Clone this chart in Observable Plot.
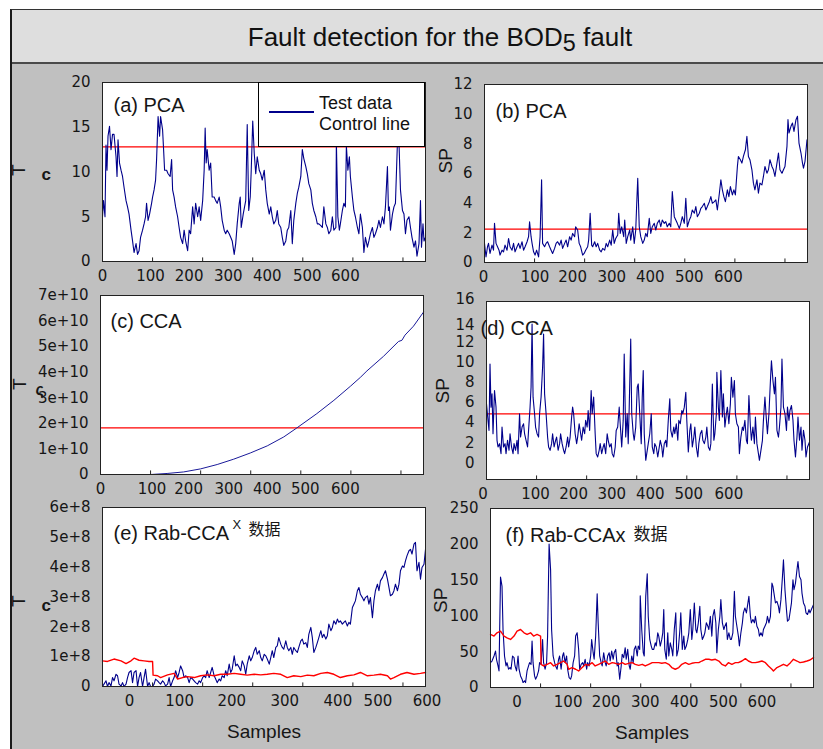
<!DOCTYPE html>
<html><head><meta charset="utf-8">
<script src="https://cdn.jsdelivr.net/npm/d3@7"></script>
<script src="https://cdn.jsdelivr.net/npm/@observablehq/plot@0.6"></script>
<style>
body{margin:0;background:#fff;}
#root{position:relative;width:823px;height:749px;overflow:hidden;background:#fff;font-family:"Liberation Sans",Arial,sans-serif;}
#frame{position:absolute;left:10px;top:9px;width:830px;height:760px;box-sizing:border-box;border-left:2px solid #1a1a1a;border-top:1.5px solid #333;background:#c0c0c0;}
#bar{position:absolute;left:0;top:0;width:100%;height:52px;background:#dedede;border-bottom:2px solid #4a4a4a;}
#title{position:absolute;left:0;top:22px;width:880px;text-align:center;font-size:26px;line-height:30px;color:#111;}
#title sub{font-size:0.9em;vertical-align:-0.22em;line-height:0;}
.legend{position:absolute;box-sizing:border-box;background:#fff;border:1px solid #000;font-size:18px;color:#111;}
.legend .ln{position:absolute;height:2px;background:#00008b;}
.legend .tx{position:absolute;line-height:20px;white-space:nowrap;}
</style></head>
<body><div id="root"><div id="frame"><div id="bar"></div></div>
<div id="title">Fault detection for the BOD<sub>5</sub> fault</div></div>
<script>
// ---------- axis ticks / labels ----------
const xTickValues = [0,100,200,300,400,500,600];
const xTickLabels = ["0","100","200","300","400","500","600"];
const xLabelPosA = [0,96,173,251,329,409,485];
const xLabelPosB = [-2,101,176,254,331,409,487];
const xLabelPosC = [0,103,176,256,333,409,489];
const xLabelPosD = [-7,98,174,250,327,404,484];
const xLabelPosE = [54,154,258,364,470,550,648];
const xLabelPosF = [53,155,231,309,387,465,542];

const aYTicks = [0,5,10,15,20];
const aYLabels = ["0","5","10","15","20"];
const bYTicks = [0,2,4,6,8,10,12];
const bYLabels = ["0","2","4","6","8","10","12"];
const cYTicks = [0,1e10,2e10,3e10,4e10,5e10,6e10,7e10];
const cYLabels = ["0","1e+10","2e+10","3e+10","4e+10","5e+10","6e+10","7e+10"];
const dYTicks = [0,2,4,6,8,10,12,13.6,16.2];
const dYLabels = ["0","2","4","6","8","10","12","14","16"];
const eYTicks = [0,1e8,2e8,3e8,4e8,5e8,6e8];
const eYLabels = ["0","1e+8","2e+8","3e+8","4e+8","5e+8","6e+8"];
const fYTicks = [0,50,100,150,200,250];
const fYLabels = ["0","50","100","150","200","250"];

// ---------- control limits ----------
const controlA = 12.8;
const controlB = 2.25;
const controlC = 1.82e10;
const controlD = 4.85;

// ---------- series: [sample, value] ----------
const pcaT2 = [[0,5.0],[2,6.8],[5,5.0],[7,13.0],[9,10.2],[11,14.0],[14,15.1],[17,12.5],[20,14.2],[23,14.2],[27,11.7],[29,9.5],[31,13.6],[34,11.0],[37,10.2],[40,9.5],[43,8.3],[47,6.8],[50,6.1],[53,5.3],[57,3.5],[60,2.3],[63,1.0],[67,2.0],[70,0.8],[73,1.2],[76,2.7],[80,3.5],[83,4.2],[86,5.0],[88,6.5],[91,4.6],[94,5.3],[98,6.5],[100,7.2],[103,8.0],[106,9.1],[108,11.4],[111,16.2],[114,14.0],[116,16.2],[120,14.7],[122,12.5],[124,10.2],[128,10.2],[131,9.8],[135,9.5],[138,11.4],[140,8.0],[143,7.2],[146,6.1],[150,5.0],[153,3.8],[156,2.7],[160,2.0],[163,3.5],[166,2.3],[170,1.2],[173,3.5],[176,3.1],[180,6.1],[183,4.2],[186,6.5],[190,5.0],[193,6.1],[196,4.6],[200,6.8],[203,10.2],[205,14.9],[207,11.0],[209,12.5],[213,10.2],[216,11.0],[219,7.2],[223,7.2],[226,6.8],[229,6.5],[233,7.2],[236,6.1],[239,4.6],[243,3.5],[246,3.1],[249,3.5],[253,3.1],[256,2.7],[259,2.3],[263,0.8],[266,2.0],[269,4.2],[273,6.5],[275,7.2],[277,3.8],[281,5.3],[286,6.8],[289,15.3],[292,5.7],[295,7.2],[297,10.2],[300,15.7],[303,12.1],[306,9.8],[309,11.7],[313,10.2],[316,9.8],[319,9.1],[323,10.2],[326,8.0],[329,6.5],[333,5.3],[336,6.1],[339,5.0],[342,4.2],[346,4.6],[349,5.7],[352,4.2],[356,3.8],[359,2.7],[362,1.8],[366,2.3],[369,3.5],[372,3.8],[376,5.7],[379,2.0],[382,4.6],[386,6.5],[389,7.6],[392,8.3],[396,9.5],[399,12.5],[402,11.5],[406,10.6],[409,9.8],[412,8.7],[416,8.0],[419,6.5],[422,5.7],[426,5.0],[429,4.2],[432,4.2],[436,4.0],[439,3.8],[442,6.1],[446,4.2],[449,3.8],[452,3.1],[456,3.5],[459,5.0],[462,3.5],[466,3.8],[467,13.4],[470,5.0],[473,3.5],[475,4.2],[479,5.7],[482,6.5],[485,6.1],[487,12.9],[490,10.2],[493,11.7],[495,9.5],[499,7.2],[502,5.7],[505,5.0],[509,3.8],[512,3.1],[515,5.3],[519,3.8],[522,1.0],[525,2.7],[529,1.6],[532,2.3],[535,3.1],[539,3.8],[542,2.7],[545,3.1],[549,3.8],[552,4.6],[555,3.8],[559,5.0],[562,4.2],[565,6.1],[569,10.6],[571,5.7],[573,6.1],[575,3.5],[579,5.3],[582,6.1],[585,6.5],[589,13.4],[592,13.4],[595,8.0],[599,5.7],[602,5.3],[605,3.1],[608,4.6],[612,5.0],[615,3.8],[618,2.7],[622,1.6],[625,2.3],[628,0.6],[632,2.0],[635,6.8],[637,1.6],[640,4.2],[642,2.3],[645,2.7]];

const pcaSP = [[0,1.29],[3,0.38],[6,1.06],[8,1.29],[11,0.61],[15,1.17],[18,0.83],[20,2.64],[23,1.29],[26,1.06],[29,0.83],[31,0.5],[35,0.83],[38,0.72],[41,1.17],[45,0.83],[48,1.62],[51,1.06],[55,0.83],[58,1.29],[61,0.72],[65,1.06],[68,1.29],[71,0.95],[75,1.4],[78,0.83],[81,1.06],[85,1.4],[88,1.74],[90,2.75],[93,1.74],[95,1.29],[98,0.72],[101,0.5],[104,0.83],[108,0.38],[111,1.74],[114,5.57],[116,1.29],[120,1.06],[123,1.29],[126,1.4],[130,1.06],[133,0.83],[136,0.61],[140,0.95],[143,1.29],[146,1.4],[150,1.17],[153,1.51],[156,0.95],[160,1.29],[163,1.51],[166,1.06],[170,1.74],[173,1.51],[176,1.96],[180,1.74],[182,2.41],[186,2.19],[189,1.29],[192,1.06],[196,0.5],[199,0.61],[202,0.83],[206,1.06],[208,1.51],[211,3.32],[214,1.17],[216,1.06],[220,1.4],[223,1.06],[226,1.29],[230,0.83],[233,0.72],[236,0.95],[240,0.83],[243,1.29],[246,1.06],[250,1.51],[253,1.17],[256,2.19],[259,1.29],[262,1.62],[266,1.85],[268,3.32],[271,1.96],[274,2.41],[278,1.74],[280,2.86],[283,1.29],[286,1.74],[290,2.19],[292,1.51],[296,2.41],[299,1.29],[302,2.19],[304,3.99],[306,5.68],[309,2.41],[312,1.74],[316,1.29],[319,1.51],[322,1.96],[325,1.74],[329,2.98],[332,1.96],[335,2.41],[339,2.64],[342,2.19],[345,2.64],[349,2.86],[352,2.41],[355,2.86],[359,2.64],[362,2.75],[365,2.41],[369,2.64],[372,2.41],[375,4.78],[379,3.09],[382,2.86],[385,2.64],[389,2.3],[392,2.64],[395,3.09],[399,2.64],[402,4.33],[405,2.41],[409,2.86],[412,3.09],[415,3.54],[419,3.32],[422,3.77],[425,3.09],[429,3.32],[432,3.65],[435,3.77],[439,3.99],[442,3.54],[445,3.77],[449,4.1],[452,4.44],[455,3.99],[459,4.1],[462,4.22],[465,3.54],[469,4.67],[472,5.57],[475,4.9],[478,4.44],[481,4.1],[485,4.9],[488,4.44],[491,5.12],[495,4.56],[498,4.9],[501,4.56],[505,6.47],[507,7.15],[511,6.93],[514,6.7],[517,7.15],[521,7.6],[524,8.5],[527,7.15],[530,6.93],[534,6.25],[537,5.35],[540,4.9],[544,5.57],[547,4.67],[550,5.35],[554,5.23],[557,5.8],[560,6.47],[564,6.02],[567,6.25],[570,6.93],[574,6.47],[577,6.25],[580,5.8],[584,6.7],[587,7.38],[590,6.25],[594,6.02],[597,6.25],[600,6.47],[604,7.83],[606,9.63],[608,8.73],[612,9.18],[615,9.4],[618,8.84],[622,9.63],[625,9.86],[628,8.05],[632,7.38],[635,6.7],[637,6.36],[640,6.81],[644,8.28]];

// CCA T2, in units of 1e10
const ccaT2 = [[0,0],[100,0],[133,0.04],[166,0.1],[200,0.22],[233,0.39],[266,0.6],[299,0.84],[333,1.12],[366,1.47],[392,1.82],[432,2.38],[466,2.9],[499,3.45],[519,3.8],[532,4.05],[565,4.62],[595,5.2],[602,5.25],[608,5.45],[625,5.8],[645,6.35]];

const ccaSP = [[0,5.85],[3,4.21],[5,3.22],[7,9.8],[9,5.52],[11,6.84],[13,2.89],[16,7.17],[19,5.52],[21,2.24],[23,1.58],[26,1.91],[29,0.92],[31,3.55],[34,1.58],[37,1.91],[39,0.92],[42,2.24],[45,1.25],[47,2.89],[50,1.58],[53,0.92],[55,1.91],[58,1.25],[61,2.24],[63,0.92],[66,4.87],[68,2.56],[71,3.55],[74,3.88],[76,2.89],[79,2.24],[82,1.58],[84,3.22],[87,5.52],[89,7.5],[91,13.74],[93,6.51],[96,4.87],[98,3.55],[101,2.89],[104,2.56],[106,4.87],[109,6.51],[112,9.47],[114,12.75],[116,6.84],[119,4.87],[122,2.56],[124,1.58],[127,1.25],[130,1.91],[132,2.89],[135,1.58],[138,2.24],[140,2.56],[143,1.25],[146,1.91],[148,2.89],[151,1.91],[154,1.25],[156,0.92],[159,1.58],[162,2.56],[164,1.58],[167,2.56],[170,4.54],[172,5.52],[174,4.87],[177,2.89],[180,1.91],[182,2.56],[185,3.88],[188,2.89],[190,2.24],[193,3.55],[196,2.89],[198,4.21],[201,3.55],[203,5.19],[206,3.22],[209,7.17],[211,4.87],[214,6.51],[217,2.89],[219,0.92],[222,0.59],[225,1.25],[227,1.91],[230,0.92],[233,1.58],[235,1.91],[238,0.92],[241,2.89],[243,2.24],[246,1.58],[249,1.91],[251,0.92],[254,0.59],[257,1.58],[259,3.22],[262,3.55],[265,5.52],[267,3.88],[270,1.58],[273,4.21],[275,10.78],[278,2.56],[281,4.87],[283,1.91],[285,5.52],[288,12.26],[290,4.87],[293,2.89],[295,2.24],[298,3.55],[301,7.5],[303,7.82],[306,4.87],[309,1.91],[311,6.51],[313,9.14],[315,2.89],[318,0.26],[321,1.25],[323,1.91],[326,2.89],[329,4.87],[331,1.58],[334,0.92],[336,1.91],[339,1.58],[342,0.59],[344,1.25],[347,2.24],[350,1.58],[352,0.59],[355,1.91],[358,2.24],[360,1.58],[363,4.21],[366,6.34],[368,3.22],[371,2.56],[374,3.55],[376,2.89],[379,3.88],[382,2.24],[384,4.21],[387,3.88],[390,5.19],[392,4.87],[395,5.52],[398,7.0],[400,4.21],[403,1.08],[406,3.22],[408,3.88],[411,1.58],[414,2.56],[416,3.55],[419,1.58],[422,0.59],[424,1.91],[427,2.89],[430,3.22],[432,2.24],[435,1.91],[438,2.56],[440,3.55],[443,1.58],[446,1.25],[448,1.91],[451,7.82],[454,2.24],[456,2.89],[459,4.87],[460,8.97],[463,5.52],[465,4.21],[468,9.14],[471,4.54],[473,6.84],[476,3.55],[479,4.87],[481,5.52],[484,3.88],[487,5.85],[489,8.48],[492,6.51],[495,8.15],[497,4.87],[500,3.88],[503,3.55],[505,0.92],[508,2.56],[511,3.55],[513,3.22],[516,4.21],[519,2.24],[521,1.91],[524,6.67],[527,3.55],[529,2.24],[532,3.55],[535,1.91],[537,4.54],[540,1.91],[543,0.92],[545,0.26],[548,1.25],[551,2.24],[553,4.21],[556,6.51],[559,4.21],[561,2.89],[564,4.87],[567,8.15],[569,10.12],[572,8.15],[575,6.84],[577,8.48],[580,3.22],[583,2.56],[585,3.55],[588,5.52],[590,10.29],[593,5.52],[596,4.87],[599,3.22],[601,5.52],[604,4.21],[606,5.19],[609,5.69],[612,4.21],[614,2.24],[617,0.59],[620,2.56],[622,4.54],[625,2.24],[628,3.55],[630,1.25],[633,3.22],[636,2.24],[638,0.59],[641,1.58],[645,2.07]];

// Rab-CCA T2, in units of 1e8
const rabT2 = [[0,0],[3,0.08],[7,0.19],[10,0],[13,0.13],[17,0.02],[20,0.3],[23,0.19],[27,0.41],[30,0.36],[33,0.08],[37,0.02],[40,0.13],[43,0],[47,0.08],[50,0.3],[53,0.47],[57,0.53],[60,0.13],[63,0.47],[67,0.53],[70,0],[73,0.3],[76,0.47],[80,0],[83,0.3],[86,0.58],[90,0],[93,0.13],[96,0],[100,0],[103,0.08],[106,0.25],[110,0.19],[113,0.13],[116,0.08],[120,0.19],[123,0.13],[126,0.02],[130,0.08],[133,0.3],[136,0],[140,0.19],[143,0.3],[146,0.53],[150,0.3],[153,0.47],[156,0.69],[160,0.53],[163,0.3],[166,0.36],[170,0.3],[173,0.13],[176,0.3],[180,0.25],[183,0.19],[186,0.13],[190,0.08],[193,0.19],[196,0.13],[200,0.3],[203,0.36],[206,0.3],[209,0.53],[213,0.3],[216,0.47],[219,0.64],[223,0.36],[226,0.25],[229,0.13],[233,0.25],[236,0.19],[239,0.36],[243,0.3],[246,0.53],[249,0.36],[253,0.75],[256,0.47],[259,0.58],[263,1.03],[266,0.69],[269,0.75],[273,0.64],[276,0.53],[279,0.86],[283,0.69],[286,0.41],[289,0.75],[293,1.03],[296,0.86],[299,0.97],[303,1.2],[306,1.31],[309,1.08],[313,1.2],[316,0.97],[319,0.86],[323,1.08],[326,1.03],[329,0.92],[333,0.75],[336,0.97],[339,1.2],[342,0.97],[346,1.31],[349,1.36],[352,1.64],[356,1.42],[359,1.31],[362,1.25],[366,1.53],[369,1.31],[372,1.2],[376,1.31],[379,1.08],[382,1.31],[386,1.2],[389,1.14],[392,1.31],[396,1.53],[399,1.59],[402,1.42],[406,1.47],[409,1.31],[412,1.75],[416,1.98],[419,1.64],[422,1.14],[426,1.31],[429,1.47],[432,1.64],[436,1.87],[439,1.64],[442,1.75],[446,1.59],[449,1.7],[452,2.09],[456,1.87],[459,1.98],[462,2.2],[466,2.09],[469,2.26],[472,2.15],[475,2.2],[479,2.09],[482,2.15],[485,2.2],[489,2.03],[492,2.15],[495,2.09],[499,2.65],[502,2.76],[505,2.87],[509,3.21],[512,3.32],[515,3.09],[519,2.98],[522,2.87],[525,2.98],[529,3.04],[532,2.76],[535,2.98],[539,2.31],[542,2.87],[545,3.21],[549,3.43],[552,3.21],[555,3.54],[559,3.65],[562,3.77],[565,3.88],[569,3.6],[572,3.32],[575,3.04],[579,3.09],[582,3.21],[585,3.43],[589,3.21],[592,3.43],[595,3.88],[599,4.04],[602,3.99],[605,4.21],[608,4.38],[612,4.55],[615,4.6],[618,4.44],[622,4.77],[625,4.83],[628,3.88],[632,4.16],[635,3.6],[638,3.99],[642,4.1],[645,4.6]];
const rabT2Limit = [[0,0.86],[10,0.84],[23,0.92],[37,0.86],[47,0.77],[57,0.86],[63,0.95],[73,0.88],[83,0.86],[93,0.84],[100,0.84],[101,0.38],[110,0.36],[116,0.3],[130,0.39],[143,0.44],[150,0.25],[160,0.3],[170,0.33],[183,0.3],[196,0.36],[209,0.39],[223,0.36],[236,0.41],[249,0.41],[263,0.44],[276,0.41],[289,0.38],[303,0.41],[316,0.39],[329,0.41],[342,0.44],[356,0.41],[369,0.3],[382,0.36],[396,0.33],[409,0.38],[422,0.36],[436,0.44],[449,0.47],[462,0.41],[475,0.3],[489,0.36],[502,0.39],[515,0.47],[529,0.36],[542,0.38],[555,0.41],[569,0.36],[575,0.25],[582,0.3],[595,0.41],[608,0.47],[622,0.41],[635,0.44],[645,0.47]];

const rabSP = [[0,34.7],[3,37.0],[7,44.0],[10,50.9],[12,39.4],[15,30.1],[17,23.1],[20,154.2],[23,141.2],[25,81.0],[28,44.0],[31,30.1],[33,34.7],[36,25.5],[39,27.8],[41,25.5],[44,44.0],[47,41.7],[49,30.1],[52,23.1],[55,44.0],[57,25.5],[60,16.2],[63,11.6],[65,6.9],[68,9.3],[70,6.9],[73,23.1],[76,30.1],[78,34.7],[81,32.4],[83,64.8],[85,34.7],[88,16.2],[90,11.6],[93,16.2],[96,23.1],[98,34.7],[101,32.4],[104,67.1],[106,34.7],[109,25.5],[112,34.7],[114,71.8],[117,200.5],[120,164.4],[122,81.0],[125,44.0],[128,34.7],[130,30.1],[133,25.5],[136,39.4],[138,44.0],[141,25.5],[144,44.0],[146,48.6],[149,34.7],[152,44.0],[154,25.5],[157,13.9],[160,11.6],[162,16.2],[165,34.7],[168,44.0],[170,71.8],[173,76.4],[176,53.2],[178,25.5],[181,32.4],[184,34.7],[186,30.1],[189,39.4],[192,25.5],[194,34.7],[197,30.1],[200,44.0],[202,67.1],[205,48.6],[207,39.4],[210,71.8],[213,131.0],[215,90.3],[218,44.0],[221,34.7],[223,30.1],[226,48.6],[229,34.7],[231,30.1],[234,44.0],[237,48.6],[239,37.0],[242,50.9],[245,39.4],[247,48.6],[250,53.2],[253,30.1],[255,34.7],[258,11.6],[261,30.1],[263,46.3],[266,41.7],[269,55.6],[271,39.4],[274,53.2],[277,30.1],[279,25.5],[282,44.0],[285,34.7],[287,53.2],[290,57.9],[293,44.0],[295,57.9],[298,53.2],[299,128.2],[302,81.0],[305,48.6],[307,44.0],[310,127.3],[313,158.8],[315,99.5],[318,67.1],[321,57.9],[323,53.2],[326,53.2],[329,62.5],[331,57.9],[334,76.4],[336,71.8],[339,57.9],[342,67.1],[344,76.4],[346,108.8],[348,53.2],[351,39.4],[354,76.4],[356,44.0],[359,62.5],[362,53.2],[364,44.0],[367,81.0],[370,104.2],[372,44.0],[375,53.2],[378,78.7],[380,104.2],[383,53.2],[386,71.8],[388,53.2],[391,57.9],[394,67.1],[396,76.4],[399,108.8],[402,67.1],[404,81.0],[407,118.1],[410,81.0],[412,76.4],[415,90.3],[418,113.4],[420,81.0],[423,67.1],[426,71.8],[428,76.4],[431,90.3],[434,85.6],[436,81.0],[439,99.5],[442,71.8],[444,99.5],[447,108.8],[450,90.3],[452,48.6],[455,81.0],[458,99.5],[460,122.7],[463,90.3],[466,81.0],[468,85.6],[471,90.3],[473,67.1],[476,76.4],[479,67.1],[481,67.1],[484,76.4],[487,134.3],[489,99.5],[492,85.6],[495,71.8],[497,57.9],[500,76.4],[503,90.3],[505,104.2],[508,111.1],[511,104.2],[513,113.4],[516,127.3],[519,99.5],[521,90.3],[524,94.9],[527,90.3],[529,99.5],[532,85.6],[535,81.0],[537,71.8],[540,76.4],[543,71.8],[545,81.0],[548,85.6],[551,90.3],[553,99.5],[556,90.3],[559,99.5],[562,145.8],[564,141.2],[567,127.3],[569,118.1],[572,120.4],[575,113.4],[577,104.2],[580,122.7],[583,155.1],[585,178.2],[588,136.6],[591,108.8],[593,92.6],[596,94.9],[599,108.8],[601,118.1],[604,150.5],[606,136.6],[609,145.8],[612,164.4],[614,175.9],[617,155.1],[620,150.5],[622,131.9],[625,118.1],[628,113.4],[630,104.2],[633,101.9],[636,108.8],[638,104.2],[642,111.1],[645,115.7]];
const rabSPLimit = [[0,74.1],[7,71.8],[13,76.4],[20,78.7],[27,71.8],[33,69.4],[40,67.1],[47,71.8],[53,78.7],[60,81.0],[67,76.4],[73,74.1],[80,76.4],[86,71.8],[93,74.1],[100,71.8],[101,32.4],[106,30.1],[113,32.4],[120,34.7],[126,30.1],[133,32.4],[140,34.7],[146,37.0],[153,32.4],[156,25.5],[163,27.8],[170,25.5],[176,23.1],[183,27.8],[190,32.4],[196,31.0],[203,34.7],[209,30.1],[216,32.4],[223,34.7],[229,37.0],[236,32.4],[243,34.7],[249,33.8],[256,32.4],[263,34.7],[269,32.4],[276,33.8],[283,34.7],[289,32.4],[296,31.0],[303,32.4],[309,30.1],[316,32.4],[323,34.7],[329,34.7],[336,34.7],[342,33.8],[349,34.7],[356,32.4],[362,27.8],[369,25.5],[376,27.8],[382,32.4],[389,34.7],[396,32.4],[402,33.8],[409,34.7],[416,34.7],[422,37.0],[429,39.4],[436,39.4],[442,38.4],[449,39.4],[456,37.0],[462,32.4],[469,30.1],[475,34.7],[482,32.4],[489,34.7],[495,34.7],[502,37.0],[509,40.3],[515,37.0],[522,34.7],[529,34.7],[535,35.6],[542,37.0],[549,34.7],[555,30.1],[562,25.5],[565,23.1],[572,27.8],[579,30.1],[585,32.4],[592,30.1],[599,34.7],[605,39.4],[612,37.0],[618,34.7],[625,35.6],[632,37.0],[638,38.4],[645,41.7]];

// ---------- drawing ----------
const NAVY = "#00008b", RED = "#ff0000", INK = "#161616";
const TICKFONT = "DejaVu Sans", LABFONT = "Liberation Sans";
const root = document.getElementById("root");

function panel(cfg) {
  const ml = 110, mr = 20, mt = 20, mb = 70;
  const [y0, y1] = cfg.yDomain;
  const marks = [
    Plot.frame({fill: "white"}),
    ...cfg.marks,
    Plot.ruleX(xTickValues, {x: d => d, y1: y0, y2: y0 + (y1 - y0) * 0.02, stroke: "#222", strokeWidth: 1}),
    Plot.frame({stroke: "#222", strokeWidth: 1}),
    Plot.text(cfg.yTicks, {y: d => d, text: (d, i) => cfg.yLabels[i], frameAnchor: "left", textAnchor: "end", dx: -12, fontFamily: TICKFONT, fontSize: 15, fill: INK}),
    Plot.text(cfg.xLabelPos, {x: d => d, text: (d, i) => xTickLabels[i], frameAnchor: "bottom", dy: 19.5, fontFamily: TICKFONT, fontSize: 15, fill: INK}),
    ...cfg.extra
  ];
  const svg = Plot.plot({
    width: cfg.w + ml + mr, height: cfg.h + mt + mb,
    marginLeft: ml, marginRight: mr, marginTop: mt, marginBottom: mb,
    x: {domain: [0, 645], axis: null},
    y: {domain: cfg.yDomain, axis: null},
    style: {background: "transparent", overflow: "visible", position: "absolute", left: (cfg.left - ml) + "px", top: (cfg.top - mt) + "px", maxWidth: "none"},
    marks
  });
  root.appendChild(svg);
}

const lineOpts = (k = 1) => ({x: d => d[0], y: d => d[1] * k});
const title = (t, dx, dy, size = 20, font = LABFONT) => Plot.text([t], {text: d => d, frameAnchor: "top-left", textAnchor: "start", dx, dy, fontSize: size, fontFamily: font, fill: INK});
const yTitle = (t, dx, dy, size = 19) => Plot.text([t], {text: d => d, frameAnchor: "left", dx, dy, rotate: -90, fontSize: size, fontFamily: LABFONT, fill: INK});
const plain = (t, dx, dy, size, anchor = "left") => Plot.text([t], {text: d => d, frameAnchor: anchor, dx, dy, fontSize: size, fontFamily: LABFONT, fontWeight: "bold", fill: INK});
const samples = Plot.text(["Samples"], {text: d => d, frameAnchor: "bottom", dy: 51, fontSize: 19, fontFamily: LABFONT, fill: INK});

// (a) PCA T2
panel({left: 102, top: 82, w: 323, h: 179, yDomain: [0, 20], yTicks: aYTicks, yLabels: aYLabels, xLabelPos: xLabelPosA,
  marks: [Plot.ruleY([controlA], {stroke: RED, strokeWidth: 1.2}), Plot.line(pcaT2, {...lineOpts(), stroke: NAVY, strokeWidth: 1.1})],
  extra: [title("(a) PCA", 11, 15), yTitle("T", -84, 4), plain("c", -61, 3, 17)]});

// (b) PCA SP
panel({left: 484, top: 84, w: 323, h: 178, yDomain: [0, 12], yTicks: bYTicks, yLabels: bYLabels, xLabelPos: xLabelPosB,
  marks: [Plot.ruleY([controlB], {stroke: RED, strokeWidth: 1.2}), Plot.line(pcaSP, {...lineOpts(), stroke: NAVY, strokeWidth: 1.1})],
  extra: [title("(b) PCA", 11, 19), yTitle("SP", -39, 0)]});

// (c) CCA T2
panel({left: 100, top: 295, w: 323, h: 179, yDomain: [0, 7e10], yTicks: cYTicks, yLabels: cYLabels, xLabelPos: xLabelPosC,
  marks: [Plot.ruleY([controlC], {stroke: RED, strokeWidth: 1.2}), Plot.line(ccaT2, {...lineOpts(1e10), stroke: "#1a1a9a", strokeWidth: 1})],
  extra: [title("(c) CCA", 10, 18), yTitle("T", -81, 5), plain("ς", -65, 5, 16)]});

// (d) CCA SP
panel({left: 486, top: 301, w: 323, h: 178, yDomain: [-1.64, 15.98], yTicks: dYTicks, yLabels: dYLabels, xLabelPos: xLabelPosD,
  marks: [Plot.ruleY([controlD], {stroke: RED, strokeWidth: 1.2}), Plot.line(ccaSP, {...lineOpts(), stroke: NAVY, strokeWidth: 1.1})],
  extra: [title("(d) CCA", -6, 19), yTitle("SP", -44, 13)]});

// (e) Rab-CCA T2
panel({left: 102, top: 507, w: 323, h: 179, yDomain: [0, 6e8], yTicks: eYTicks, yLabels: eYLabels, xLabelPos: xLabelPosE,
  marks: [Plot.line(rabT2, {...lineOpts(1e8), stroke: NAVY, strokeWidth: 1.1}), Plot.line(rabT2Limit, {...lineOpts(1e8), stroke: RED, strokeWidth: 1.4})],
  extra: [title("(e) Rab-CCA", 11, 18), title("X", 130, 12, 13), title("数据", 146, 16, 16, "Noto Sans CJK SC"),
    yTitle("T", -84, 10), plain("c", -61, 9, 17), samples]});

// (f) Rab-CCA SP
panel({left: 490, top: 508, w: 323, h: 179, yDomain: [0, 250], yTicks: fYTicks, yLabels: fYLabels, xLabelPos: xLabelPosF,
  marks: [Plot.line(rabSP, {...lineOpts(), stroke: NAVY, strokeWidth: 1.1}), Plot.line(rabSPLimit, {...lineOpts(), stroke: RED, strokeWidth: 1.4})],
  extra: [title("(f) Rab-CCAx", 15, 19), title("数据", 143, 19, 17, "Noto Sans CJK SC"), yTitle("SP", -50, 15), samples]});

// legend of (a)
const lg = document.createElement("div");
lg.className = "legend";
Object.assign(lg.style, {left: "258px", top: "82px", width: "167px", height: "65px"});
lg.innerHTML = '<div class="ln" style="left:10px;top:28px;width:45px"></div>' +
  '<div class="tx" style="left:60px;top:10px">Test data</div>' +
  '<div class="tx" style="left:60px;top:31px">Control line</div>';
root.appendChild(lg);
</script></body></html>
